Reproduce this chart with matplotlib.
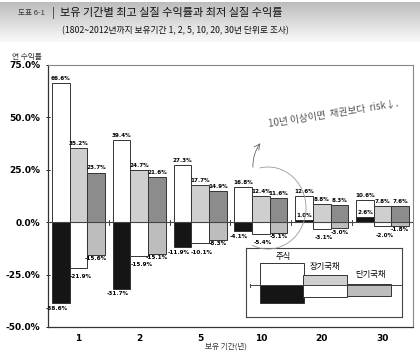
import numpy as np
import matplotlib.pyplot as plt
from matplotlib.patches import Arc

plt.rcParams['font.family'] = ['Noto Sans CJK KR', 'DejaVu Sans']

periods = ['1', '2', '5', '10', '20', '30']
stock_max = [66.6, 39.4, 27.3, 16.8, 12.6, 10.6]
stock_min = [-38.6, -31.7, -11.9, -4.1, 1.0, 2.6]
lbond_max = [35.2, 24.7, 17.7, 12.4, 8.8, 7.8]
lbond_min = [-21.9, -15.9, -10.1, -5.4, -3.1, -2.0]
sbond_max = [23.7, 21.6, 14.9, 11.6, 8.3, 7.6]
sbond_min = [-15.6, -15.1, -8.3, -5.1, -3.0, -1.8]
yticks = [75, 50, 25, 0, -25, -50]
legend_names = ['주식', '장기국채', '단기국채']

W, H = 420, 354
fig = plt.figure(figsize=(W / 100, H / 100), dpi=100)

def fx(px):
    return px / W

def fy(py):
    return 1 - py / H

# title banner (grey fading band)
ban = fig.add_axes([0, fy(42), 1, fy(2) - fy(42)])
grad = np.linspace(0.5, 1.0, 40)[:, None] * np.ones((1, 200))
ban.imshow(grad, cmap='gray', vmin=0, vmax=1.05, aspect='auto', alpha=0.5)
ban.axis('off')

fig.text(fx(18), fy(13), '도표 6-1', fontsize=5.5, va='center', color='#333333')
fig.text(fx(52), fy(13), '|', fontsize=8, va='center', color='#333333')
fig.text(fx(60), fy(13), '보유 기간별 최고 실질 수익률과 최저 실질 수익률',
         fontsize=8, va='center', color='#111111', fontweight='medium')
fig.text(fx(62), fy(31), '(1802~2012년까지 보유기간 1, 2, 5, 10, 20, 30년 단위로 조사)',
         fontsize=6.3, va='center', color='#111111')
fig.text(fx(12), fy(57), '연 수익률', fontsize=5.5, va='center', color='#333333')

ax = fig.add_axes([fx(48), fy(327), fx(413) - fx(48), fy(65) - fy(327)])
x = np.arange(len(periods))
bw = 0.29
series = [
    (stock_max, stock_min, 'white', '#151515'),
    (lbond_max, lbond_min, '#cfcfcf', 'white'),
    (sbond_max, sbond_min, '#8c8c8c', '#bdbdbd'),
]
# label offsets below negative bars (points): (dx, dy) per series
neg_off = [(-3, -2), (1.5, -4.5), (0, -1)]
lab = dict(fontsize=4.1, fontweight='bold', family='DejaVu Sans', zorder=5,
           textcoords='offset points', ha='center')
for k, (vmax, vmin, cmax, cmin) in enumerate(series):
    xs = x + (k - 1) * bw
    ax.bar(xs, vmax, bw, color=cmax, edgecolor='#333333', linewidth=0.7, zorder=2)
    ax.bar(xs, vmin, bw, color=cmin, edgecolor='#333333', linewidth=0.7, zorder=3)
    for xi, a, b in zip(xs, vmax, vmin):
        ax.annotate(f'{a:.1f}%', (xi, a), xytext=(0, 1.5), va='bottom', **lab)
        if b >= 0:
            ax.annotate(f'{b:.1f}%', (xi, b), xytext=(0, 1.5), va='bottom', **lab)
        else:
            ax.annotate(f'{b:.1f}%', (xi, b), xytext=neg_off[k], va='top', **lab)

ax.axhline(0, color='#444444', linewidth=0.8, zorder=4)
for xb in x[:-1] + 0.5:
    ax.plot([xb, xb], [-1.2, 1.2], color='#444444', linewidth=0.7, zorder=4)

ax.set_xlim(-0.5, 5.5)
ax.set_ylim(-50, 75)
ax.set_yticks(yticks)
ax.set_yticklabels([f'{v:.1f}%' for v in yticks], fontsize=6.5, fontweight='bold',
                   family='DejaVu Sans')
ax.tick_params(axis='y', direction='inout', length=3, width=0.6, pad=4)
ax.set_xticks(x)
ax.set_xticklabels(periods, fontsize=6.5, fontweight='bold', family='DejaVu Sans')
ax.tick_params(axis='x', length=0, pad=5)
for s in ['top', 'right']:
    ax.spines[s].set_color('#888888')
    ax.spines[s].set_linewidth(0.8)
for s in ['left', 'bottom']:
    ax.spines[s].set_color('#333333')
    ax.spines[s].set_linewidth(0.9)

fig.text(fx(226), fy(347), '보유 기간(년)', fontsize=5.5, ha='center', va='center',
         color='#333333')

# legend inset
lg = fig.add_axes([fx(246), fy(317), fx(402) - fx(246), fy(248) - fy(317)])
lg.set_xlim(0, 156)
lg.set_ylim(-32, 37)
leg_x = [14, 57, 101]
leg_w = 44
leg_top = [22, 10, 1]
leg_bot = [-18, -12, -11]
for k, (vmax, vmin, cmax, cmin) in enumerate(series):
    lg.bar(leg_x[k], leg_top[k], leg_w, align='edge', color=cmax,
           edgecolor='#333333', linewidth=0.7, zorder=2)
    lg.bar(leg_x[k], leg_bot[k], leg_w, align='edge', color=cmin,
           edgecolor='#333333', linewidth=0.7, zorder=2)
lg.axhline(0, xmin=4 / 156, color='#444444', linewidth=0.7, zorder=3)
lg.plot([4, 4], [-1.5, 1.5], color='#444444', linewidth=0.7)
lg.text(37, 29, legend_names[0], fontsize=6, ha='center', va='center')
lg.text(79, 18, legend_names[1], fontsize=6, ha='center', va='center')
lg.text(124, 10, legend_names[2], fontsize=6, ha='center', va='center')
lg.set_xticks([])
lg.set_yticks([])
for s in lg.spines.values():
    s.set_color('#444444')
    s.set_linewidth(0.8)

# handwritten note
fig.text(fx(333), fy(114), '10년 이상이면  채권보다  risk↓.', fontsize=7,
         rotation=9, ha='center', va='center', color='#555555', fontweight='light')
fig.add_artist(Arc((fx(268), fy(208)), fx(76), fy(0) - fy(82), theta1=-110, theta2=100,
                   transform=fig.transFigure, color='#999999', linewidth=0.6))
ax.annotate('', xy=(fx(262), fy(141)), xytext=(fx(253), fy(170)),
            xycoords='figure fraction', textcoords='figure fraction',
            arrowprops=dict(arrowstyle='->', color='#666666', linewidth=0.6,
                            connectionstyle='arc3,rad=-0.2'))

fig.savefig('out.png', dpi=100)
